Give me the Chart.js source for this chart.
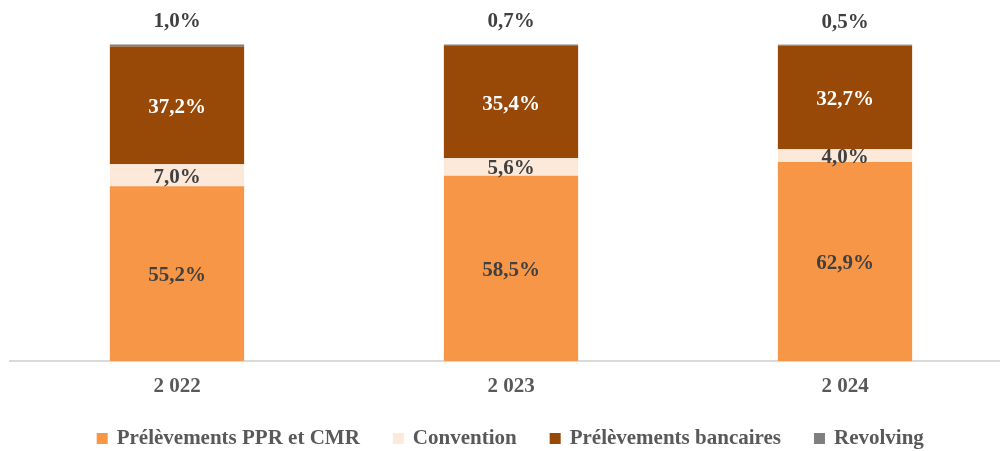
<!DOCTYPE html>
<html>
<head>
<meta charset="utf-8">
<script src="https://cdn.jsdelivr.net/npm/chart.js@4/dist/chart.umd.min.js"></script>
<style>
  html, body { margin: 0; padding: 0; background: #fff; overflow: hidden; }
  #wrap { position: absolute; left: 0; top: 0; width: 1012px; height: 459px; }
</style>
</head>
<body>
<div id="wrap"><canvas id="chart"></canvas></div>
<script>
const years = ['2 022', '2 023', '2 024'];
const ppr = [55.2, 58.5, 62.9];
const convention = [7.0, 5.6, 4.0];
const bancaires = [37.2, 35.4, 32.7];
const revolving = [1.0, 0.7, 0.5];

const font = '"Liberation Serif", "Times New Roman", serif';

// draws the percentage labels on the segments
const segmentLabels = {
  id: 'segmentLabels',
  afterDatasetsDraw(chart) {
    const ctx = chart.ctx;
    ctx.save();
    ctx.font = 'bold 21px ' + font;
    ctx.textAlign = 'center';
    ctx.textBaseline = 'middle';
    chart.data.datasets.forEach((ds, i) => {
      const meta = chart.getDatasetMeta(i);
      meta.data.forEach((bar, j) => {
        const txt = ds.data[j].toFixed(1).replace('.', ',') + '%';
        let y = (bar.y + bar.base) / 2 + 2;
        if (i === 3) y = bar.y - 22;
        ctx.fillStyle = i === 2 ? '#ffffff' : '#404040';
        ctx.fillText(txt, bar.x, y);
      });
    });
    ctx.restore();
  }
};

new Chart(document.getElementById('chart'), {
  type: 'bar',
  data: {
    labels: years,
    datasets: [
      { label: 'Prélèvements PPR et CMR', data: ppr, backgroundColor: '#F79646' },
      { label: 'Convention', data: convention, backgroundColor: '#FDE9D9' },
      { label: 'Prélèvements bancaires', data: bancaires, backgroundColor: '#984807' },
      { label: 'Revolving', data: revolving, backgroundColor: '#7F7F7F' }
    ]
  },
  options: {
    responsive: true,
    maintainAspectRatio: false,
    animation: false,
    layout: { padding: { left: 10, right: 0, top: 44.5, bottom: 0 } },
    datasets: { bar: { barPercentage: 0.402, categoryPercentage: 1 } },
    scales: {
      x: {
        stacked: true,
        grid: { display: false, drawTicks: false },
        border: { color: '#D9D9D9', width: 2 },
        ticks: { color: '#595959', padding: 13, font: { family: font, size: 21, weight: 'bold' } },
        afterFit(scale) { scale.height = 43; }
      },
      y: { stacked: true, display: false, min: 0, max: 100 }
    },
    plugins: {
      legend: {
        position: 'bottom',
        labels: {
          boxWidth: 8, boxHeight: 8, padding: 24, color: '#595959',
          font: { family: font, size: 21, weight: 'bold' },
          generateLabels(chart) {
            const items = Chart.defaults.plugins.legend.labels.generateLabels(chart);
            items.forEach((it, i) => {
              it.lineWidth = 3;
              it.strokeStyle = it.fillStyle;
              // extra room after each entry except the last
              if (i < items.length - 1) it.text += '\u2002';
            });
            return items;
          }
        }
      },
      tooltip: { enabled: false }
    }
  },
  plugins: [segmentLabels]
});
</script>
</body>
</html>
